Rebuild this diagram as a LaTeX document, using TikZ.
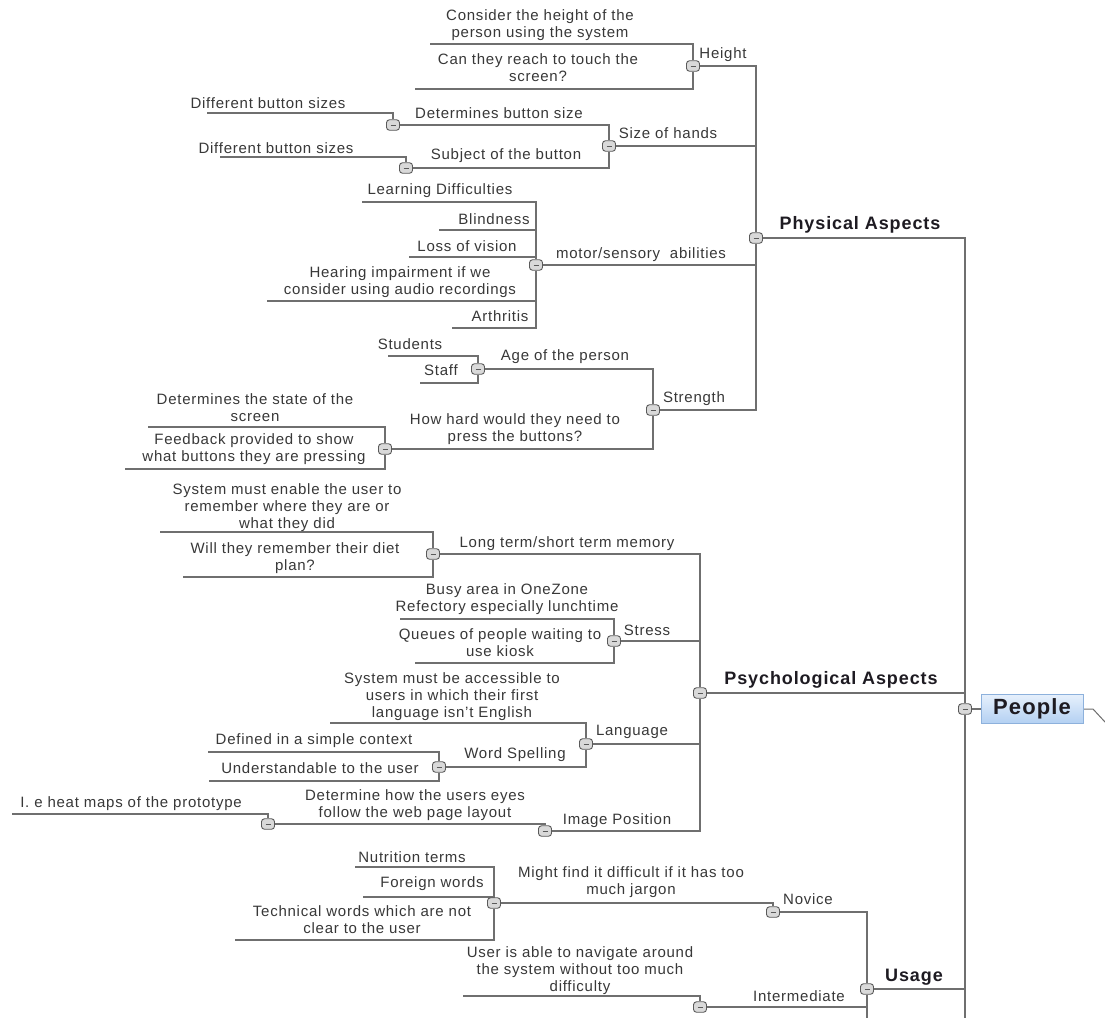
\documentclass[tikz,border=0pt]{standalone}
\usepackage{fontspec}
\setmainfont{Liberation Sans}[LetterSpace=5]
\usetikzlibrary{backgrounds}
\definecolor{linecol}{HTML}{6F6F6F}
\definecolor{txtcol}{HTML}{383838}
\definecolor{lblcol}{HTML}{1E1B22}
\definecolor{btnfill}{HTML}{D9D9D9}
\definecolor{btndraw}{HTML}{5A5A5A}
\definecolor{boxtop}{HTML}{E6F0FC}
\definecolor{boxbot}{HTML}{B3D0F2}
\definecolor{boxdraw}{HTML}{8DB1DC}
\tikzset{
  topic/.style={font=\fontsize{15}{17}\selectfont, text=txtcol, align=center, inner sep=0pt},
  mainlbl/.style={font=\fontsize{18}{20}\selectfont\bfseries, text=lblcol, inner sep=0pt},
  btn/.style={draw=btndraw, line width=0.9pt, fill=btnfill, rounded corners=3pt,
    minimum width=13pt, minimum height=10.5pt, inner sep=0pt,
    path picture={\draw[btndraw, line width=0.8pt]
      ([xshift=-2.5pt]path picture bounding box.center) --
      ([xshift=2.5pt]path picture bounding box.center);}},
  conn/.style={draw=linecol, line width=1.6pt},
  rootbox/.style={draw=boxdraw, line width=0.8pt, top color=boxtop, bottom color=boxbot,
    minimum width=102pt, minimum height=29pt, inner sep=0pt,
    font=\fontsize{22}{24}\selectfont\bfseries, text=lblcol}
}
\begin{document}
\begin{tikzpicture}[x=1pt, y=-1pt]
\useasboundingbox (0,0) rectangle (1105,1017);

% ---------- root ----------
\node[rootbox] (people) at (1032,709) {People};

% ---------- collapse buttons ----------
\node[btn] (b_people)   at (965,709) {};
\node[btn] (b_phys)     at (756,238) {};
\node[btn] (b_psych)    at (700,693) {};
\node[btn] (b_usage)    at (867,989) {};
\node[btn] (b_height)   at (693,66) {};
\node[btn] (b_hands)    at (609,146) {};
\node[btn] (b_detsize)  at (393,125) {};
\node[btn] (b_subject)  at (406,168) {};
\node[btn] (b_motor)    at (536,265) {};
\node[btn] (b_strength) at (653,410) {};
\node[btn] (b_age)      at (478,369) {};
\node[btn] (b_hard)     at (385,449) {};
\node[btn] (b_memory)   at (433,554) {};
\node[btn] (b_stress)   at (614,641) {};
\node[btn] (b_lang)     at (586,744) {};
\node[btn] (b_spell)    at (439,767) {};
\node[btn] (b_imgpos)   at (545,831) {};
\node[btn] (b_eyes)     at (268,824) {};
\node[btn] (b_novice)   at (773,912) {};
\node[btn] (b_jargon)   at (494,903) {};
\node[btn] (b_inter)    at (700,1007) {};

% ---------- free ends of leaf underlines ----------
\coordinate (e_consider) at (430,44);
\coordinate (e_reach)    at (415,89);
\coordinate (e_diff1)    at (207,113);
\coordinate (e_diff2)    at (220,157);
\coordinate (e_learn)    at (362,202);
\coordinate (e_blind)    at (439,230);
\coordinate (e_loss)     at (409,257);
\coordinate (e_hear)     at (267,301);
\coordinate (e_arth)     at (452,328);
\coordinate (e_students) at (388,356);
\coordinate (e_staff)    at (420,383);
\coordinate (e_state)    at (148,427);
\coordinate (e_feedback) at (125,469);
\coordinate (e_enable)   at (160,532);
\coordinate (e_diet)     at (183,577);
\coordinate (e_busy)     at (400,619);
\coordinate (e_queue)    at (415,663);
\coordinate (e_access)   at (330,723);
\coordinate (e_defined)  at (208,752);
\coordinate (e_underst)  at (209,781);
\coordinate (e_heat)     at (12,814);
\coordinate (e_nutri)    at (355,867);
\coordinate (e_foreign)  at (363,897);
\coordinate (e_tech)     at (235,940);
\coordinate (e_navig)    at (463,996);
\coordinate (e_mainend)  at (965,1030);
\coordinate (e_usageend) at (867,1030);
\coordinate (e_out1)     at (1093,709);
\coordinate (e_out2)     at (1117,735);

% ---------- page and branch lines (behind the buttons) ----------
\begin{scope}[on background layer]
  \fill[white] (0,0) rectangle (1105,1017);
  % root
  \draw[conn] (b_people) -- (people);
  \draw[linecol, line width=1pt] (people) -- (e_out1) -- (e_out2);
  \draw[conn] (b_phys) -| (b_people);
  \draw[conn] (b_psych) -| (b_people);
  \draw[conn] (b_usage) -| (b_people);
  \draw[conn] (b_people) -- (e_mainend);
  % physical aspects
  \draw[conn] (b_height) -| (b_phys);
  \draw[conn] (b_hands) -| (b_phys);
  \draw[conn] (b_motor) -| (b_phys);
  \draw[conn] (b_strength) -| (b_phys);
  \draw[conn] (e_consider) -| (b_height);
  \draw[conn] (e_reach) -| (b_height);
  \draw[conn] (b_detsize) -| (b_hands);
  \draw[conn] (b_subject) -| (b_hands);
  \draw[conn] (e_diff1) -| (b_detsize);
  \draw[conn] (e_diff2) -| (b_subject);
  \draw[conn] (e_learn) -| (b_motor);
  \draw[conn] (e_blind) -| (b_motor);
  \draw[conn] (e_loss) -| (b_motor);
  \draw[conn] (e_hear) -| (b_motor);
  \draw[conn] (e_arth) -| (b_motor);
  \draw[conn] (b_age) -| (b_strength);
  \draw[conn] (b_hard) -| (b_strength);
  \draw[conn] (e_students) -| (b_age);
  \draw[conn] (e_staff) -| (b_age);
  \draw[conn] (e_state) -| (b_hard);
  \draw[conn] (e_feedback) -| (b_hard);
  % psychological aspects
  \draw[conn] (b_memory) -| (b_psych);
  \draw[conn] (b_stress) -| (b_psych);
  \draw[conn] (b_lang) -| (b_psych);
  \draw[conn] (b_imgpos) -| (b_psych);
  \draw[conn] (e_enable) -| (b_memory);
  \draw[conn] (e_diet) -| (b_memory);
  \draw[conn] (e_busy) -| (b_stress);
  \draw[conn] (e_queue) -| (b_stress);
  \draw[conn] (e_access) -| (b_lang);
  \draw[conn] (b_spell) -| (b_lang);
  \draw[conn] (e_defined) -| (b_spell);
  \draw[conn] (e_underst) -| (b_spell);
  \draw[conn] (b_eyes) -| (b_imgpos);
  \draw[conn] (e_heat) -| (b_eyes);
  % usage
  \draw[conn] (b_novice) -| (b_usage);
  \draw[conn] (b_inter) -| (b_usage);
  \draw[conn] (b_usage) -- (e_usageend);
  \draw[conn] (b_jargon) -| (b_novice);
  \draw[conn] (e_nutri) -| (b_jargon);
  \draw[conn] (e_foreign) -| (b_jargon);
  \draw[conn] (e_tech) -| (b_jargon);
  \draw[conn] (e_navig) -| (b_inter);
\end{scope}

% ---------- main branch labels ----------
\node[mainlbl] (t_phys)  at (860,225) {Physical Aspects};
\node[mainlbl] (t_psych) at (831,680) {Psychological Aspects};
\node[mainlbl] (t_usage) at (914,977) {Usage};

% ---------- physical aspects ----------
\node[topic] (t_consider) at (540,25) {Consider the height of the\\person using the system};
\node[topic] (t_reach)    at (538,68) {Can they reach to touch the\\screen?};
\node[topic] (t_height)   at (723,55) {Height};
\node[topic] (t_diff1)    at (268,103) {Different button sizes};
\node[topic] (t_detsize)  at (499,113) {Determines button size};
\node[topic] (t_hands)    at (668,133) {Size of hands};
\node[topic] (t_diff2)    at (276,148) {Different button sizes};
\node[topic] (t_subject)  at (506,156) {Subject of the button};
\node[topic] (t_learn)    at (440,191) {Learning Difficulties};
\node[topic] (t_blind)    at (494,219) {Blindness};
\node[topic] (t_loss)     at (467,246) {Loss of vision};
\node[topic] (t_hear)     at (400,282) {Hearing impairment if we\\consider using audio recordings};
\node[topic] (t_arth)     at (500,316) {Arthritis};
\node[topic] (t_motor)    at (641,255) {motor/sensory\ \ abilities};
\node[topic] (t_students) at (410,344) {Students};
\node[topic] (t_staff)    at (441,370) {Staff};
\node[topic] (t_age)      at (565,357) {Age of the person};
\node[topic] (t_strength) at (694,399) {Strength};
\node[topic] (t_hard)     at (515,429) {How hard would they need to\\press the buttons?};
\node[topic] (t_state)    at (255,408) {Determines the state of the\\screen};
\node[topic] (t_feedback) at (254,449) {Feedback provided to show\\what buttons they are pressing};

% ---------- psychological aspects ----------
\node[topic] (t_enable)  at (287,508) {System must enable the user to\\remember where they are or\\what they did};
\node[topic] (t_diet)    at (295,558) {Will they remember their diet\\plan?};
\node[topic] (t_memory)  at (567,544) {Long term/short term memory};
\node[topic] (t_busy)    at (507,599) {Busy area in OneZone\\Refectory especially lunchtime};
\node[topic] (t_queue)   at (500,643) {Queues of people waiting to\\use kiosk};
\node[topic] (t_stress)  at (647,630) {Stress};
\node[topic] (t_access)  at (452,697) {System must be accessible to\\users in which their first\\language isn't English};
\node[topic] (t_lang)    at (632,732) {Language};
\node[topic] (t_spell)   at (515,755) {Word Spelling};
\node[topic] (t_defined) at (314,741) {Defined in a simple context};
\node[topic] (t_underst) at (320,768) {Understandable to the user};
\node[topic] (t_eyes)    at (415,805) {Determine how the users eyes\\follow the web page layout};
\node[topic] (t_heat)    at (131,804) {I. e heat maps of the prototype};
\node[topic] (t_imgpos)  at (617,821) {Image Position};

% ---------- usage ----------
\node[topic] (t_nutri)   at (412,857) {Nutrition terms};
\node[topic] (t_foreign) at (432,884) {Foreign words};
\node[topic] (t_tech)    at (362,920) {Technical words which are not\\clear to the user};
\node[topic] (t_jargon)  at (631,882) {Might find it difficult if it has too\\much jargon};
\node[topic] (t_novice)  at (808,899) {Novice};
\node[topic] (t_navig)   at (580,971) {User is able to navigate around\\the system without too much\\difficulty};
\node[topic] (t_inter)   at (799,996) {Intermediate};
\end{tikzpicture}
\end{document}
